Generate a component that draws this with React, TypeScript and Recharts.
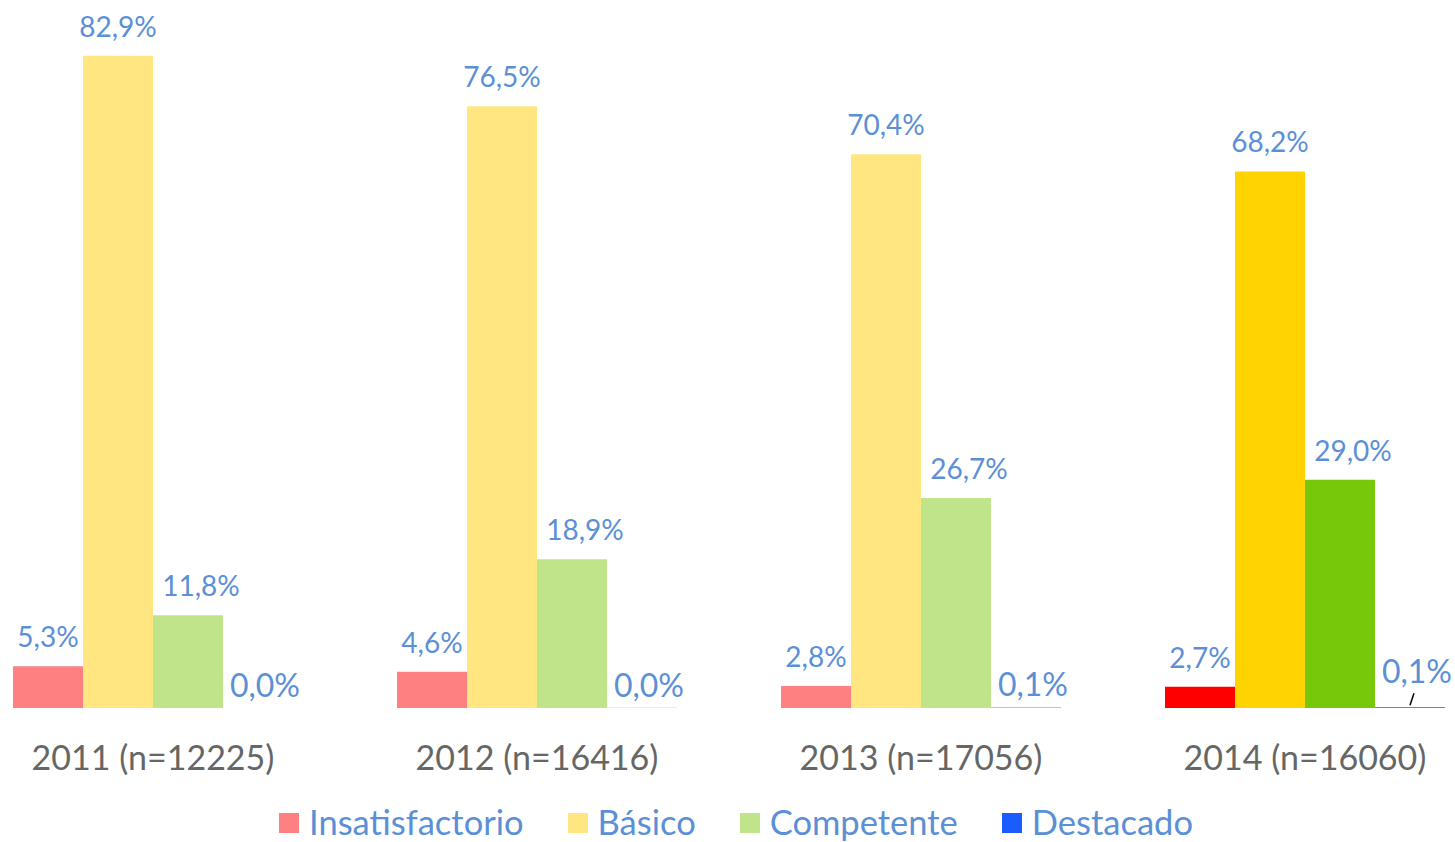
import React from "react";
import { BarChart, Bar, XAxis, YAxis, Cell, LabelList, Legend } from "recharts";

// Data
const years = ["2011 (n=12225)", "2012 (n=16416)", "2013 (n=17056)", "2014 (n=16060)"];
const insatisfactorio = [5.3, 4.6, 2.8, 2.7];
const basico = [82.9, 76.5, 70.4, 68.2];
const competente = [11.8, 18.9, 26.7, 29.0];
const destacado = [0.0, 0.04, 0.1, 0.1];
// the last year is drawn in the strong colours
const highlighted = [false, false, false, true];

const series = [
  { key: "insatisfactorio", name: "Insatisfactorio", light: "#FF8080", strong: "#FF0000", legend: "#FF8080" },
  { key: "basico", name: "Básico", light: "#FFE680", strong: "#FFD300", legend: "#FFE680" },
  { key: "competente", name: "Competente", light: "#BFE48A", strong: "#77C70A", legend: "#BFE48A" },
  { key: "destacado", name: "Destacado", light: "#8DB3FF", strong: "#1A5CFF", legend: "#1A5CFF" },
];

const data = years.map((year, i) => ({
  year,
  insatisfactorio: insatisfactorio[i],
  basico: basico[i],
  competente: competente[i],
  destacado: destacado[i],
}));

const FONT = "Lato, 'Open Sans', sans-serif";
const LABEL_COLOR = "#5B8FD6";

const fmt = (v: number) => v.toFixed(1).replace(".", ",") + "%";

// the label gets the whole row, so it knows its year and value
const makeLabel = (key: string) => (props: any) => {
  const { x, y, width, value } = props;
  const row = value as any;
  if (!row || typeof row !== "object") return null;
  const idx = years.indexOf(row.year);
  const v = row[key] as number;
  const cx = x + width / 2;
  if (key === "destacado") {
    const leader = highlighted[idx];
    return (
      <g>
        {leader && (
          <line x1={cx} y1={y - 2} x2={cx + 4} y2={y - 14} stroke="#000" strokeWidth={1.5} />
        )}
        <text
          x={cx + 7}
          y={y - (leader ? 24 : 11)}
          textAnchor="middle"
          fill={LABEL_COLOR}
          fontSize={32}
          fontFamily={FONT}
        >
          {fmt(v)}
        </text>
      </g>
    );
  }
  const dx = key === "competente" ? 13 : 0;
  return (
    <text x={cx + dx} y={y - 19} textAnchor="middle" fill={LABEL_COLOR} fontSize={28} fontFamily={FONT}>
      {fmt(v)}
    </text>
  );
};

const YearTick = (props: any) => {
  const { x, y, payload } = props;
  return (
    <text x={x} y={y + 62} textAnchor="middle" fill="#666666" fontSize={34} fontFamily={FONT}>
      {payload.value}
    </text>
  );
};

const LegendContent = () => (
  <div
    style={{
      boxSizing: "border-box",
      height: 48,
      paddingTop: 9,
      display: "flex",
      justifyContent: "center",
      alignItems: "center",
      gap: 44,
      marginLeft: 14,
      fontFamily: FONT,
    }}
  >
    {series.map((s) => (
      <div key={s.key} style={{ display: "flex", alignItems: "center" }}>
        <span style={{ width: 20, height: 20, background: s.legend, marginRight: 10, display: "inline-block" }} />
        <span style={{ fontSize: 34.5, color: LABEL_COLOR, lineHeight: 1, whiteSpace: "nowrap" }}>{s.name}</span>
      </div>
    ))}
  </div>
);

export default function App() {
  return (
    <div style={{ position: "absolute", left: 0, top: 0, width: 1455, height: 842, overflow: "hidden", background: "#fff" }}>
      <div style={{ position: "absolute", left: -39, top: 0 }}>
        <BarChart
          width={1536}
          height={842}
          data={data}
          margin={{ top: 0, right: 0, left: 0, bottom: 0 }}
          barCategoryGap={52}
          barGap={0}
        >
          <XAxis
            dataKey="year"
            axisLine={false}
            tickLine={false}
            tickSize={0}
            tickMargin={0}
            height={86}
            tick={<YearTick />}
            interval={0}
          />
          <YAxis hide domain={[0, 90]} />
          <Legend verticalAlign="bottom" content={<LegendContent />} />
          {series.map((s) => (
            <Bar
              key={s.key}
              dataKey={s.key}
              name={s.name}
              barSize={70}
              minPointSize={s.key === "destacado" ? 0.01 : 0}
              isAnimationActive={false}
            >
              {data.map((_, i) => (
                <Cell key={i} fill={highlighted[i] ? s.strong : s.light} />
              ))}
              <LabelList dataKey={(row: any) => row} content={makeLabel(s.key)} />
            </Bar>
          ))}
        </BarChart>
      </div>
    </div>
  );
}
